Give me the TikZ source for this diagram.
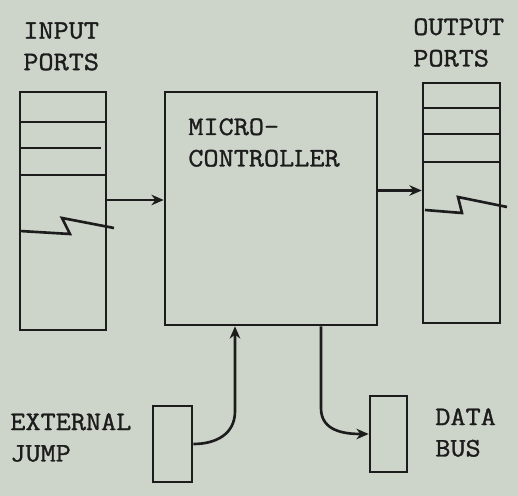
\documentclass[tikz,border=0pt]{standalone}
\usepackage{fontspec}
\newfontfamily\typer[FakeBold=1.2,FakeStretch=1.1]{Latin Modern Mono}
\usetikzlibrary{positioning,arrows.meta,calc}
\definecolor{paper}{RGB}{205,212,202}
\definecolor{ink}{RGB}{28,28,28}

\begin{document}
\begin{tikzpicture}[x=0.02cm,y=-0.02cm,
  box/.style={rectangle,draw=ink,line width=1.5pt,inner sep=0pt},
  wire/.style={draw=ink,line width=1.5pt},
  flow/.style={wire,-{Stealth[length=7pt,width=6pt]}},
  lbl/.style={font=\typer\fontsize{15.2}{17.9}\selectfont,text=ink,
    align=left,anchor=north west,inner sep=0pt}]
% Background and frame
\fill[paper] (0,0) rectangle (518,496);
\useasboundingbox (0,0) rectangle (518,496);
% Blocks
\node[box,minimum width=1.72cm,minimum height=4.76cm] (inport) at (63,211) {};
\node[box,minimum width=4.24cm,minimum height=4.66cm] (mcu) at (271,208.5) {};
\node[box,minimum width=1.54cm,minimum height=4.8cm] (outport) at (461.5,203) {};
\node[box,minimum width=0.78cm,minimum height=1.52cm] (jump) at (172.5,444) {};
\node[box,minimum width=0.74cm,minimum height=1.52cm] (bus) at (388.5,434) {};
% Port registers
\draw[wire] (20,122) -- (106,122);
\draw[wire] (20,148) -- (101,148);
\draw[wire] (20,175) -- (106,175);
\draw[wire] (20,231) -- (70,234) -- (62,218) -- (114,228);
\draw[wire] (423,108) -- (500,108);
\draw[wire] (423,134) -- (500,134);
\draw[wire] (423,162) -- (500,162);
\draw[wire] (425,210) -- (462,213) -- (458,197) -- (507,207);
% Connections
\draw[flow] ($(inport.east)+(0,-11)$) -- (mcu.west |- {$(inport.east)+(0,-11)$});
\draw[flow] ($(mcu.east)+(0,-18)$) -- (outport.west |- {$(mcu.east)+(0,-18)$});
\coordinate (jbend) at ($(mcu.south)+(-36,85)$);
\draw[flow] (jump.east) to[out=0,in=-90,looseness=1.1] (jbend) -- (mcu.south -| jbend);
\coordinate (bbend) at ($(mcu.south)+(50,82)$);
\draw[flow] (mcu.south -| bbend) -- (bbend) to[out=-90,in=180,looseness=1.1] (bus.west);
% Labels
\node[lbl] (inlbl) at (23,22) {INPUT\\PORTS};
\node[lbl] (outlbl) at (413,18) {OUTPUT\\PORTS};
\node[lbl] (mculbl) at (188,118) {MICRO-\\CONTROLLER};
\node[lbl] (jumplbl) at (10,413) {EXTERNAL\\JUMP};
\node[lbl] (buslbl) at (435,408) {DATA\\BUS};
\end{tikzpicture}
\end{document}
